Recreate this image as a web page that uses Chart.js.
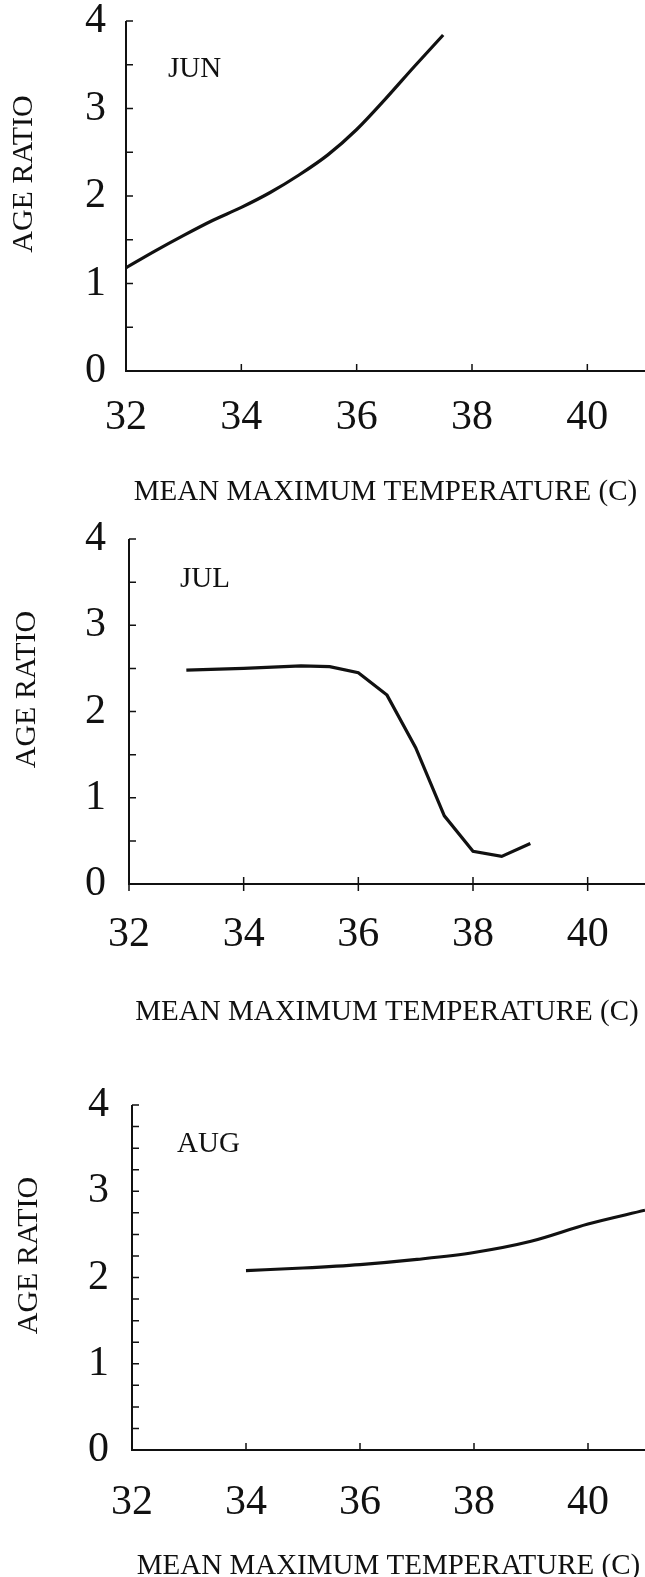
<!DOCTYPE html>
<html>
<head>
<meta charset="utf-8">
<script src="https://cdn.jsdelivr.net/npm/chart.js@4.4.1/dist/chart.umd.min.js"></script>
<style>
  html, body { margin: 0; padding: 0; background: #fff; overflow: hidden; }
  .panel { position: absolute; left: 0; width: 645px; }
</style>
</head>
<body>
<div class="panel" style="top:0;height:510px"><canvas id="junChart"></canvas></div>
<div class="panel" style="top:510px;height:525px"><canvas id="julChart"></canvas></div>
<div class="panel" style="top:1035px;height:542px"><canvas id="augChart"></canvas></div>
<script>
// Values (temperature in C, age ratio)
const junTemp = [32, 32.5, 33, 33.5, 34, 34.5, 35, 35.5, 36, 36.5, 37, 37.5];
const junRatio = [1.18, 1.37, 1.55, 1.72, 1.87, 2.04, 2.24, 2.47, 2.76, 3.11, 3.48, 3.84];

const julTemp = [33, 34, 35, 35.5, 36, 36.5, 37, 37.5, 38, 38.5, 39];
const julRatio = [2.48, 2.50, 2.53, 2.52, 2.45, 2.19, 1.58, 0.79, 0.38, 0.32, 0.47];

const augTemp = [34, 35, 36, 37, 38, 39, 40, 41];
const augRatio = [2.08, 2.11, 2.15, 2.21, 2.29, 2.42, 2.62, 2.78];

const tempTicks = [32, 34, 36, 38, 40];
const ratioLabels = [0, 1, 2, 3, 4];

const SERIF = '"Liberation Serif", "Times New Roman", serif';
const INK = '#111';

// axis lines, inward tick marks, month label and rotated y title
const paperAxes = {
  id: 'paperAxes',
  afterDraw(chart, args, o) {
    const { ctx, chartArea: a, scales: { x, y } } = chart;
    ctx.save();
    ctx.strokeStyle = INK;
    ctx.lineWidth = 2;
    ctx.beginPath();
    ctx.moveTo(a.left, a.top);
    ctx.lineTo(a.left, a.bottom);
    ctx.lineTo(a.right, a.bottom);
    ctx.stroke();

    ctx.lineWidth = 1.5;
    ctx.beginPath();
    y.ticks.forEach(t => {
      const py = y.getPixelForValue(t.value);
      ctx.moveTo(a.left, py);
      ctx.lineTo(a.left + o.yTick, py);
    });
    x.ticks.forEach(t => {
      const px = x.getPixelForValue(t.value);
      ctx.moveTo(px, a.bottom - o.xUp);
      ctx.lineTo(px, a.bottom + o.xDown);
    });
    ctx.stroke();

    ctx.fillStyle = INK;
    ctx.font = '29px ' + SERIF;
    ctx.textAlign = 'left';
    ctx.textBaseline = 'middle';
    ctx.fillText(o.month, o.monthX, o.monthY);

    ctx.font = '30px ' + SERIF;
    ctx.translate(o.yTitleX, (a.top + a.bottom) / 2 - 22);
    ctx.rotate(-Math.PI / 2);
    ctx.textAlign = 'center';
    ctx.fillText('AGE RATIO', 0, 0);
    ctx.restore();
  }
};

function makePanel(id, temps, ratios, p) {
  new Chart(document.getElementById(id), {
    type: 'line',
    data: {
      datasets: [{
        data: temps.map((t, i) => ({ x: t, y: ratios[i] })),
        borderColor: INK,
        borderWidth: 3.2,
        pointRadius: 0,
        tension: p.smooth ? 0.4 : 0,
        cubicInterpolationMode: p.smooth ? 'monotone' : 'default',
        fill: false
      }]
    },
    options: {
      responsive: true,
      maintainAspectRatio: false,
      animation: false,
      events: [],
      layout: { padding: { top: p.top, right: 0, bottom: 0, left: 0 } },
      plugins: {
        legend: { display: false },
        tooltip: { enabled: false },
        paperAxes: {
          month: p.month, monthX: p.monthX, monthY: p.monthY,
          yTitleX: p.yTitleX, yTick: 7, xUp: 7, xDown: p.xDown
        }
      },
      scales: {
        x: {
          type: 'linear',
          min: 32,
          max: 41,
          afterBuildTicks: s => { s.ticks = tempTicks.map(v => ({ value: v })); },
          afterFit: s => { s.height = p.xHeight; s.paddingLeft = 0; s.paddingRight = 0; },
          grid: { display: false, drawTicks: false },
          border: { display: false },
          ticks: {
            font: { family: SERIF, size: 42, lineHeight: 1.2 },
            color: INK,
            padding: p.xLabelPad,
            maxRotation: 0,
            autoSkip: false
          },
          title: {
            display: true,
            text: 'MEAN MAXIMUM TEMPERATURE (C)',
            font: { family: SERIF, size: 29, lineHeight: 1.2 },
            color: INK,
            padding: { top: 0, bottom: p.titlePad }
          }
        },
        y: {
          min: 0,
          max: 4,
          afterFit: s => { s.width = p.axisX; s.paddingTop = 0; s.paddingBottom = 0; },
          grid: { display: false, drawTicks: false },
          border: { display: false },
          ticks: {
            stepSize: p.yStep,
            font: { family: SERIF, size: 42, lineHeight: 1 },
            color: INK,
            padding: p.yLabelPad,
            autoSkip: false,
            callback: v => ratioLabels.includes(v) ? String(v) : ''
          }
        }
      }
    },
    plugins: [paperAxes]
  });
}

makePanel('junChart', junTemp, junRatio, {
  month: 'JUN', monthX: 168, monthY: 69, yTitleX: 24, smooth: true,
  top: 21, axisX: 126, xHeight: 139, xLabelPad: 22, yLabelPad: 20, titlePad: 0,
  xDown: 0, yStep: 0.5
});
makePanel('julChart', julTemp, julRatio, {
  month: 'JUL', monthX: 180, monthY: 69, yTitleX: 27, smooth: false,
  top: 29, axisX: 129, xHeight: 151, xLabelPad: 26, yLabelPad: 23, titlePad: 5,
  xDown: 7, yStep: 0.5
});
makePanel('augChart', augTemp, augRatio, {
  month: 'AUG', monthX: 177, monthY: 109, yTitleX: 29, smooth: true,
  top: 70, axisX: 132, xHeight: 127, xLabelPad: 28, yLabelPad: 23, titlePad: -7,
  xDown: 0, yStep: 0.25
});
</script>
</body>
</html>
